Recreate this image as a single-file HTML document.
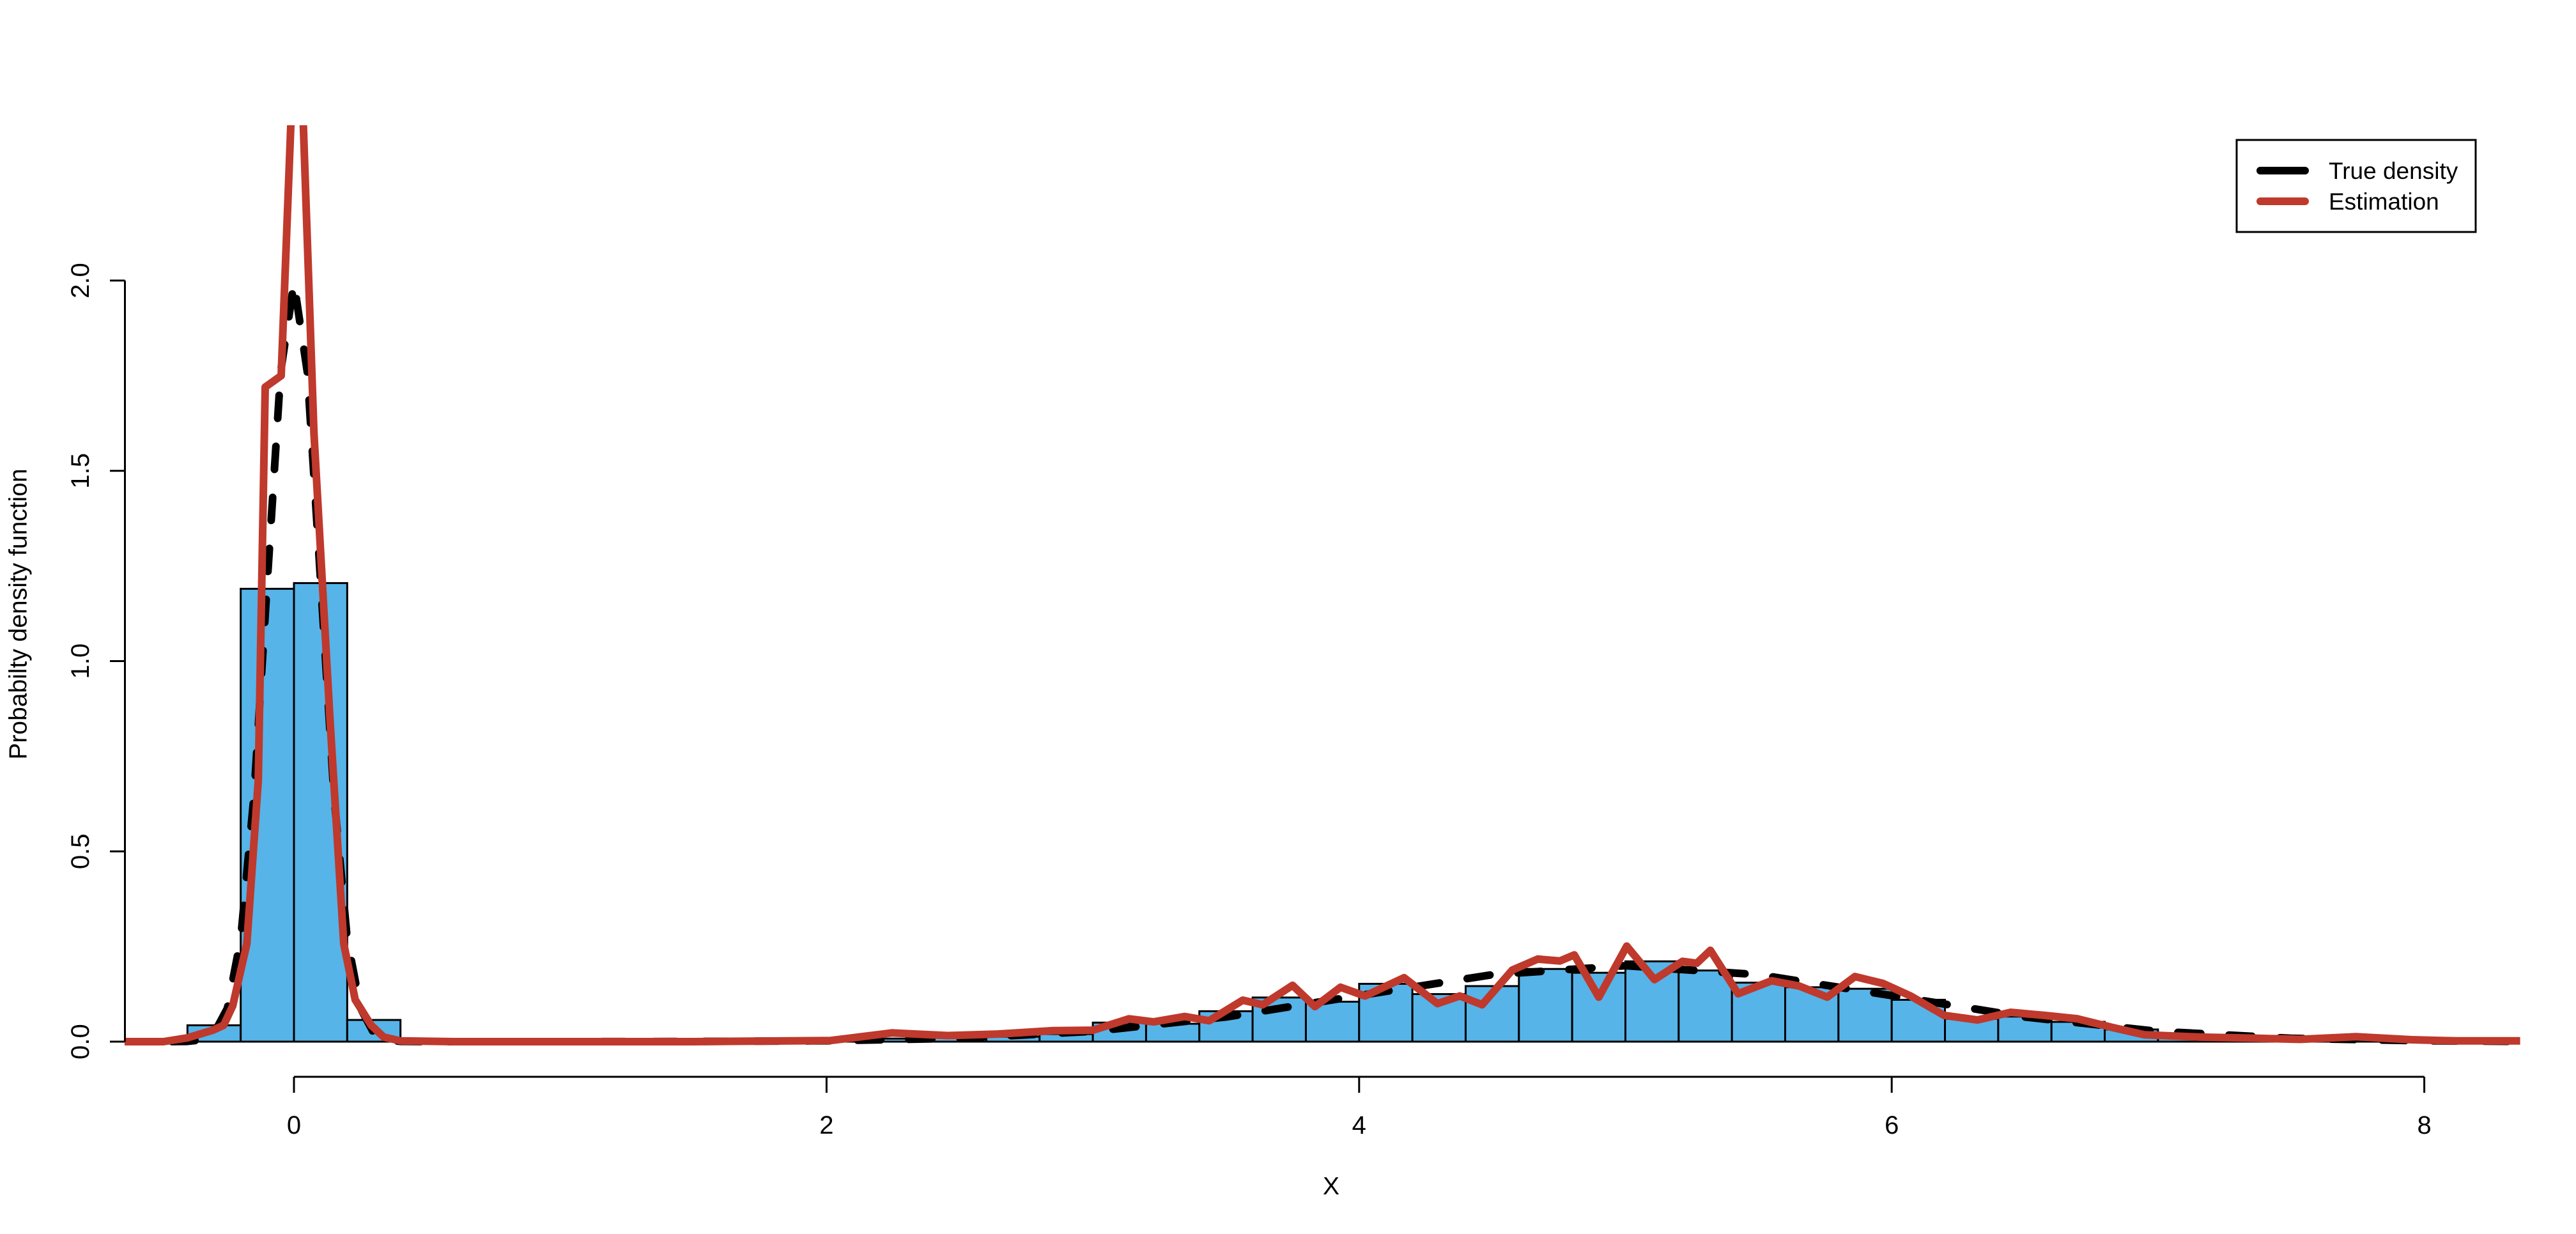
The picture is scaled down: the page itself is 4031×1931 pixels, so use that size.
<!DOCTYPE html>
<html><head><meta charset="utf-8"><style>
html,body{margin:0;padding:0;background:#fff;}
svg{display:block;font-family:"Liberation Sans",Arial,sans-serif;}
</style></head><body>
<svg id="chart" width="4031" height="1931" viewBox="0 0 4031 1931" xmlns="http://www.w3.org/2000/svg">
<defs><clipPath id="plotclip"><rect x="195" y="196" width="3749" height="1489"/></clipPath></defs>
<g id="bars" clip-path="url(#plotclip)"></g>
<g id="lines" clip-path="url(#plotclip)"></g>
<g id="axes"></g>
<text x="31" y="961" font-size="39" text-anchor="middle" transform="rotate(-90 31 961)" dominant-baseline="middle">Probabilty density function</text>
<text x="2083" y="1869" font-size="39" text-anchor="middle">X</text>
<g>
<rect x="3500" y="219" width="374" height="144" fill="#fff" stroke="#000" stroke-width="3"/>
<line x1="3537" y1="267" x2="3607" y2="267" stroke="#000" stroke-width="12" stroke-linecap="round"/>
<line x1="3537" y1="315" x2="3607" y2="315" stroke="#BF392C" stroke-width="12" stroke-linecap="round"/>
<text x="3644" y="280" font-size="37">True density</text>
<text x="3644" y="328" font-size="37">Estimation</text>
</g>
</svg>
<script>
// histogram data
const binStarts = [-0.4,-0.2,0,0.2, 2.0,2.2,2.4,2.6,2.8,3.0,3.2,3.4,3.6,3.8,4.0,4.2,4.4,4.6,4.8,5.0,5.2,5.4,5.6,5.8,6.0,6.2,6.4,6.6,6.8,7.0,7.2,7.4,7.6,7.8,8.0];
const binHeights = [0.043,1.19,1.205,0.057, 0.002,0.008,0.01,0.013,0.02,0.05,0.047,0.08,0.116,0.105,0.152,0.125,0.146,0.191,0.181,0.211,0.187,0.155,0.143,0.139,0.11,0.06,0.066,0.052,0.032,0.018,0.012,0.008,0.006,0.004,0.002];
const binWidth = 0.2;
// true density curve
const trueX = [-0.65,-0.5,-0.4,-0.35,-0.3,-0.25,-0.2,-0.15,-0.1,-0.05,0,0.05,0.1,0.15,0.2,0.25,0.3,0.35,0.4,0.5,1.0,1.5,2.0,2.5,3.0,3.5,4.0,4.5,5.0,5.5,6.0,6.5,7.0,7.5,8.0,8.35];
const trueY = [0,0,0.0007,0.0044,0.0222,0.0876,0.270,0.648,1.210,1.760,1.995,1.760,1.210,0.648,0.270,0.0876,0.0222,0.0044,0.0007,0,0,0.0004,0.0022,0.0088,0.027,0.0648,0.121,0.176,0.1995,0.176,0.121,0.0648,0.027,0.0088,0.0022,0.0007];
// estimated density curve
const estX = [-0.636,-0.49,-0.4,-0.305,-0.264,-0.23,-0.177,-0.134,-0.108,-0.048,0.013,0.075,0.135,0.187,0.23,0.29,0.337,0.4,0.6,1.0,1.5,2.016,2.246,2.455,2.643,2.852,3.0,3.136,3.228,3.345,3.437,3.563,3.638,3.75,3.834,3.93,4.022,4.169,4.294,4.378,4.462,4.575,4.671,4.754,4.808,4.9,5.005,5.109,5.214,5.268,5.319,5.423,5.549,5.653,5.758,5.862,5.967,6.071,6.197,6.322,6.447,6.573,6.698,6.824,6.949,7.158,7.367,7.534,7.743,7.953,8.12,8.36];
const estY = [0,0,0.01,0.03,0.043,0.094,0.257,0.686,1.72,1.75,2.86,1.6,0.85,0.257,0.11,0.043,0.012,0.002,0,0,0,0.003,0.023,0.016,0.02,0.029,0.03,0.06,0.052,0.066,0.055,0.109,0.097,0.148,0.092,0.143,0.12,0.168,0.1,0.12,0.097,0.188,0.217,0.212,0.228,0.117,0.251,0.163,0.211,0.206,0.24,0.126,0.16,0.146,0.117,0.171,0.153,0.12,0.069,0.057,0.077,0.069,0.06,0.038,0.018,0.012,0.009,0.006,0.013,0.005,0.002,0.002];
const xTicks = [0,2,4,6,8];
const yTicks = [0,0.5,1.0,1.5,2.0];
const yTickLabels = ["0.0","0.5","1.0","1.5","2.0"];

const NS = "http://www.w3.org/2000/svg";
function sx(v){return 460 + v*416.7;}
function sy(v){return 1630 - v*595.5;}
function mk(tag, attrs, parent){const e=document.createElementNS(NS,tag);for(const k in attrs)e.setAttribute(k,attrs[k]);parent.appendChild(e);return e;}

const gb = document.getElementById('bars');
binStarts.forEach((b,i)=>{
  const r = mk('rect',{x:sx(b),y:sy(binHeights[i]),width:sx(b+binWidth)-sx(b),height:sy(0)-sy(binHeights[i]),fill:'#56B4E9',stroke:'#000','stroke-width':3},gb);
  
  
});
const gl = document.getElementById('lines');
const tp = mk('polyline',{points:trueX.map((x,i)=>sx(x)+','+sy(trueY[i])).join(' '),fill:'none',stroke:'#000','stroke-width':12,'stroke-dasharray':'36 44','stroke-linecap':'round','stroke-linejoin':'round'},gl);


const ep = mk('polyline',{points:estX.map((x,i)=>sx(x)+','+sy(estY[i])).join(' '),fill:'none',stroke:'#BF392C','stroke-width':12,'stroke-linejoin':'round'},gl);



const ga = document.getElementById('axes');
const xa = mk('line',{x1:sx(xTicks[0]),x2:sx(xTicks[xTicks.length-1]),y1:1685,y2:1685,stroke:'#000','stroke-width':3},ga);


xTicks.forEach(t=>{
  const l = mk('line',{x1:sx(t),x2:sx(t),y1:1685,y2:1710,stroke:'#000','stroke-width':3},ga);
  
  
  const tx = mk('text',{x:sx(t),y:1774,'font-size':40,'text-anchor':'middle'},ga);
  tx.textContent = String(t);
  
  
});
const ya = mk('line',{x1:195.5,x2:195.5,y1:sy(yTicks[yTicks.length-1]),y2:sy(yTicks[0]),stroke:'#000','stroke-width':3},ga);


yTicks.forEach((t,i)=>{
  const l = mk('line',{x1:172,x2:195.5,y1:sy(t),y2:sy(t),stroke:'#000','stroke-width':3},ga);
  
  
  const ty = sy(t);
  const tx = mk('text',{x:139,y:ty,'font-size':40,'text-anchor':'middle',transform:'rotate(-90 139 '+ty+')'},ga);
  tx.textContent = yTickLabels[i];
  
  
});
</script>
</body></html>
